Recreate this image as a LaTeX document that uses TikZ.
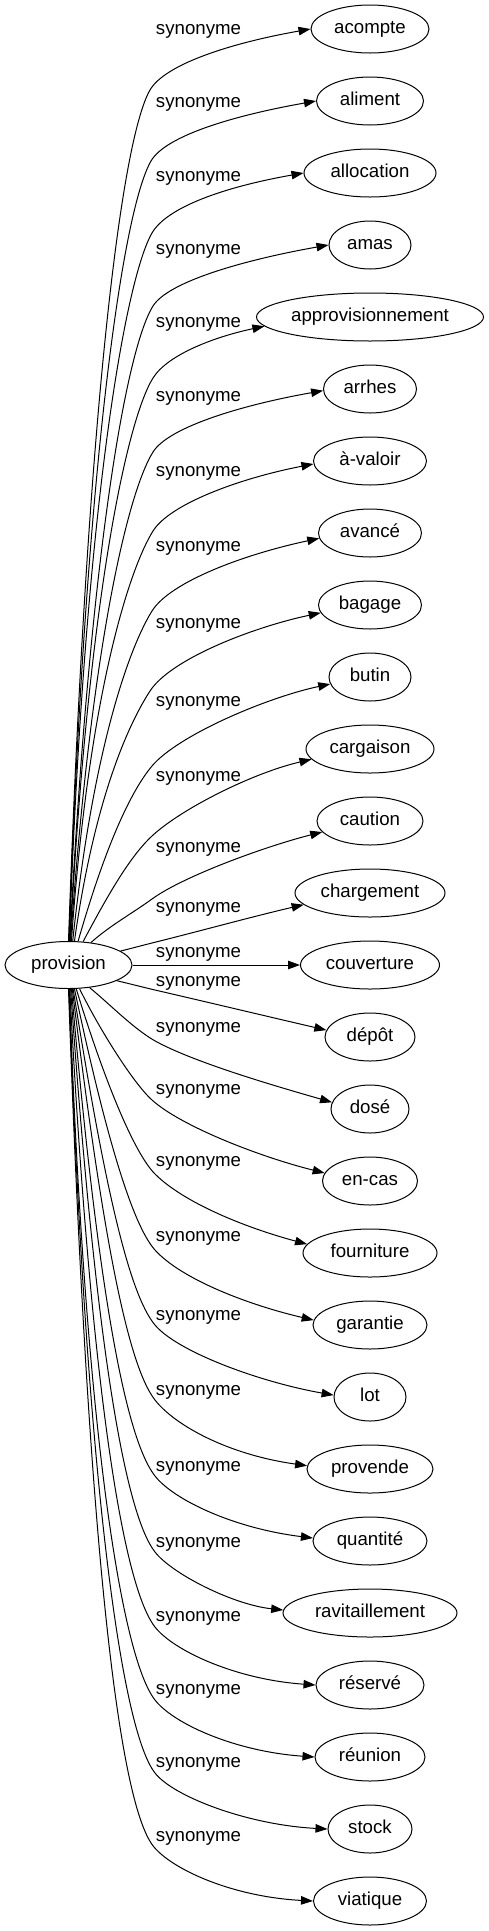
\documentclass[tikz,border=0pt]{standalone}
\usepackage{fontspec}
\setmainfont{Liberation Sans}
\usetikzlibrary{shapes.geometric,arrows.meta,calc}
\tikzset{
  word/.style={draw, ellipse, line width=1pt, minimum height=48pt, inner sep=0pt,
    font=\fontsize{18.67pt}{22pt}\selectfont, text height=13pt, text depth=4pt},
  lab/.style={inner sep=0pt, font=\fontsize{18.67pt}{22pt}\selectfont, text height=13pt, text depth=4pt},
  edge/.style={line width=1pt, -{Triangle[length=12pt,width=8.5pt]}}
}
\begin{document}
\begin{tikzpicture}[x=1pt,y=-1pt]
\fill[white] (0,0) rectangle (489,1931);
\useasboundingbox (0,0) rectangle (489,1931);
\node[word, minimum width=127pt, minimum height=47pt] (provision) at (68.5,965) {provision};
\foreach \nm/\tx/\yy/\ww in {
  n1/acompte/29/118, n2/aliment/101/107, n3/allocation/173/132, n4/amas/245/82,
  n5/approvisionnement/317/227, n6/arrhes/389/93, n7/à-valoir/461/113,
  n8/avancé/533/103, n9/bagage/605/103, n10/butin/677/82, n11/cargaison/749/128,
  n12/caution/821/106, n13/chargement/893/150, n14/couverture/965/139,
  n15/dépôt/1037/90, n16/dosé/1109/78, n17/en-cas/1181/95, n18/fourniture/1253/134,
  n19/garantie/1325/114, n20/lot/1397/72, n21/provende/1469/126, n22/quantité/1541/114,
  n23/ravitaillement/1613/174, n24/réservé/1685/108, n25/réunion/1757/110,
  n26/stock/1829/84, n27/viatique/1901/113}
  {\node[word, minimum width=\ww pt] (\nm) at (370,\yy) {\tx};}
\foreach \yy [count=\i] in {30,103,177,250,323,397,472,547,624,702,777,848,908,953,
  982,1028,1090,1162,1237,1316,1391,1467,1543,1617,1690,1763,1837}
  {\node[lab] (l\i) at (198.5,\yy) {synonyme};}
\foreach \nm/\aa/\th/\Lo/\xb/\yb/\ps/\Lt/\Lh/\tp/\al/\Lf in {
  n1/90/88/511/150/90/60/60/30/180/10/80,
  n2/89/88/469/151/161/60/58/30/180/10/80,
  n3/88/88/425/152/233/60/55/30/180/10/80,
  n4/87/87/382/153/306/58/52/30/180/10/80,
  n5/86/87/338/153/378/58/50/28/185/12/50,
  n6/85/86/294/153/452/58/48/30/182/10/80,
  n7/83/86/247/153/531/58/45/32/183/11/75,
  n8/80/84/199/152/611/58/40/35/186/12/75,
  n9/76/82/150/150/691/57/35/38/189/12/70,
  n10/68/74/106/152/766/50/30/40/190/12/65,
  n11/58/62/55/152/836/43/30/40/190/13/60,
  n12/45/42/25/152/899/36/25/40/193/14/55,
  n13/15/14/10/152/943/14/10/50/190/13/50,
  n15/342/-13/10/155/990/-13/10/50/171/-13/50,
  n16/313/-39/25/157/1042/-28/25/45/170/-16/60,
  n17/295/-64/45/152/1100/-42/25/40/170/-14/65,
  n18/288/-73/93/155/1174/-45/30/40/172/-15/65,
  n19/284/-78/144/155/1250/-48/35/40/175/-13/65,
  n20/281/-81/202/155/1325/-50/40/35/177/-10/75,
  n21/279/-83/247/155/1400/-52/45/32/177/-8/80,
  n22/277/-85/293/155/1476/-52/50/30/177/-7/80,
  n23/275/-86/338/155/1552/-52/52/28/178/-6/50,
  n24/273/-87/383/155/1627/-52/55/30/180/-4/80,
  n25/272/-88/427/155/1700/-52/57/30/180/-4/80,
  n26/271/-88/471/155/1773/-52/58/30/180/-3/80,
  n27/270/-88/515/154/1847/-50/60/30/180/-3/80}
{
  \pgfmathsetmacro\cax{\Lo*cos(\th)}
  \pgfmathsetmacro\cay{-\Lo*sin(\th)}
  \pgfmathsetmacro\cbx{\xb-\Lt*cos(\ps)}
  \pgfmathsetmacro\cby{\yb+\Lt*sin(\ps)}
  \pgfmathsetmacro\ccx{\xb+\Lh*cos(\ps)}
  \pgfmathsetmacro\ccy{\yb-\Lh*sin(\ps)}
  \pgfmathsetmacro\cdx{-\Lf*cos(\al)}
  \pgfmathsetmacro\cdy{\Lf*sin(\al)}
  \draw[edge] (provision.\aa) .. controls ($(provision.\aa)+(\cax,\cay)$) and (\cbx,\cby) .. (\xb,\yb)
     .. controls (\ccx,\ccy) and ($(\nm.\tp)+(\cdx,\cdy)$) .. (\nm.\tp);
}
\draw[edge] (provision.east) -- (n14.west);
\end{tikzpicture}
\end{document}
